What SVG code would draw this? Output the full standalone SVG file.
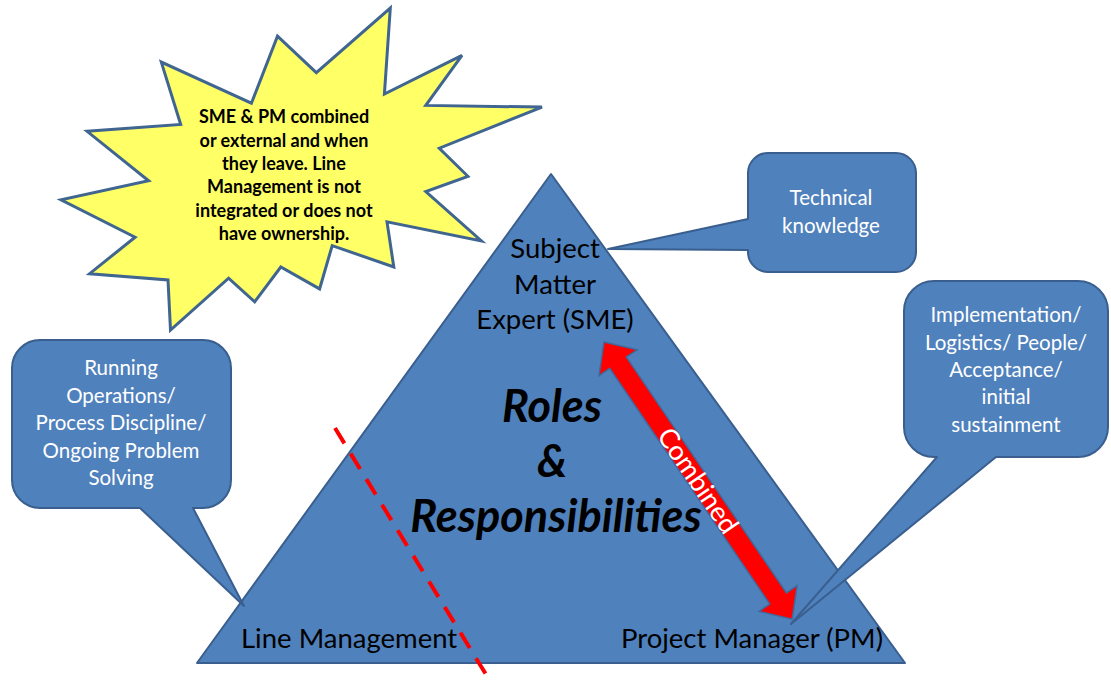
<svg xmlns="http://www.w3.org/2000/svg" width="1111" height="681" viewBox="0 0 1111 681">
<style>
.blue{fill:#4F81BD;stroke:#3A5F8E;stroke-width:2;stroke-linejoin:round}
.wt{font-family:Lato,'Liberation Sans',sans-serif;fill:#FFFFFF;font-size:20.5px;text-anchor:middle}
.bk{font-family:Lato,'Liberation Sans',sans-serif;fill:#000000;font-size:27.5px}
.ttl{font-family:Lato,'Liberation Sans',sans-serif;fill:#000000;font-size:45px;font-weight:bold;font-style:italic;text-anchor:middle}
.burst{font-family:Lato,'Liberation Sans',sans-serif;fill:#000000;font-size:18px;font-weight:bold;text-anchor:middle}
</style>
<rect width="1111" height="681" fill="#FFFFFF"/>

<g id="triangle">
  <polygon class="blue" points="551,174 905,663 197,663"/>
  <g class="bk" text-anchor="middle">
    <text x="555" y="258">Subject</text>
    <text x="555" y="294">Matter</text>
    <text x="555" y="329">Expert (SME)</text>
  </g>
  <text class="bk" x="241" y="648">Line Management</text>
  <text class="bk" x="883" y="648" text-anchor="end">Project Manager (PM)</text>
</g>

<g id="title">
  <text class="ttl" x="552" y="422">Roles</text>
  <text class="ttl" x="552" y="477">&amp;</text>
  <text class="ttl" x="556" y="532">Responsibilities</text>
</g>

<g id="divider">
  <line x1="335" y1="428" x2="490" y2="681" stroke="#FF0000" stroke-width="4" stroke-dasharray="18 12"/>
</g>

<g id="connectors">
  <g transform="translate(604,342) rotate(55.83)">
    <polygon points="0,0 25,-23 25,-10 310,-10 310,-23 335,0 310,23 310,10 25,10 25,23" fill="#FF0000" stroke="#41689A" stroke-width="1.5" stroke-linejoin="miter"/>
    <text x="167.5" y="9.5" font-family="Lato,'Liberation Sans',sans-serif" font-size="27" fill="#FFFFFF" text-anchor="middle">Combined</text>
  </g>
</g>

<g id="callout-line-management">
  <path class="blue" d="M40,340 H203 A28,28 0 0 1 231,368 V480 A28,28 0 0 1 203,508 H193 L244,606 L140,508 H40 A28,28 0 0 1 12,480 V368 A28,28 0 0 1 40,340 Z"/>
  <g class="wt">
    <text x="121" y="375">Running</text>
    <text x="121" y="403">Operations/</text>
    <text x="121" y="430">Process Discipline/</text>
    <text x="121" y="458">Ongoing Problem</text>
    <text x="121" y="485">Solving</text>
  </g>
</g>

<g id="callout-sme">
  <path class="blue" d="M768,153 H896 A20,20 0 0 1 916,173 V252 A20,20 0 0 1 896,272 H768 A20,20 0 0 1 748,252 V250 L608,249 L748,219 V173 A20,20 0 0 1 768,153 Z"/>
  <g class="wt">
    <text x="831" y="205">Technical</text>
    <text x="831" y="233">knowledge</text>
  </g>
</g>

<g id="callout-pm">
  <path class="blue" d="M934,281 H1078 A30,30 0 0 1 1108,311 V427 A30,30 0 0 1 1078,457 H996 L791,624 L937,457 H934 A30,30 0 0 1 904,427 V311 A30,30 0 0 1 934,281 Z"/>
  <g class="wt">
    <text x="1006" y="322">Implementation/</text>
    <text x="1006" y="350">Logistics/ People/</text>
    <text x="1006" y="377">Acceptance/</text>
    <text x="1006" y="404">initial</text>
    <text x="1006" y="432">sustainment</text>
  </g>
</g>

<g id="starburst">
  <polygon fill="#FFFF66" stroke="#3F6590" stroke-width="3" stroke-linejoin="miter" points="316.3,72.7 277.5,36.1 251.4,103.2 161.3,62.1 180.7,124.5 87.1,131.3 148.6,180.8 61,199.9 135.1,237.2 89.6,273.7 168,279.9 170.5,330 228.6,278.2 254.7,301.8 280.8,267 319.6,288.9 332.2,245.6 393.8,267 387,221.9 481.4,241 425.8,191.5 467.9,176.3 439.3,148.2 542,107.1 425.8,105.4 462,55.3 384.4,94.1 390.3,8"/>
  <g class="burst">
    <text x="284" y="123">SME &amp; PM combined</text>
    <text x="284" y="147">or external and when</text>
    <text x="284" y="170">they leave. Line</text>
    <text x="284" y="193">Management is not</text>
    <text x="284" y="217">integrated or does not</text>
    <text x="284" y="240">have ownership.</text>
  </g>
</g>
</svg>
